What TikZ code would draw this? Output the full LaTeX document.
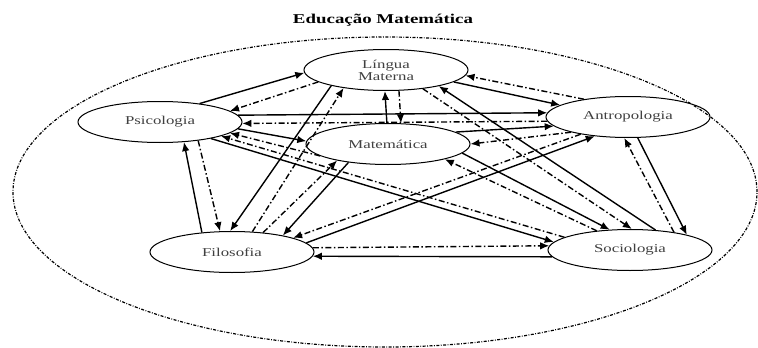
\documentclass[tikz,border=0pt]{standalone}
\usepackage{fontspec}
\setmainfont{Liberation Serif}[FakeStretch=1.4]
\usetikzlibrary{arrows.meta, shapes.geometric}
\tikzset{
    disciplina/.style={draw, ellipse, minimum width=164pt, minimum height=41pt, inner sep=0pt, line width=1pt, text=black!75, font=\fontsize{12}{12}\selectfont, align=center},
    directa/.style={-{Latex[length=9pt,width=7.5pt]}, line width=1.4pt},
    inversa/.style={-{Latex[length=9pt,width=7.5pt]}, line width=1.4pt, dash pattern=on 6pt off 2.5pt on 1.5pt off 2.5pt},
    contorno/.style={line width=1.2pt, dash pattern=on 3pt off 1.5pt on 0.8pt off 1.5pt},
}

\begin{document}
\begin{tikzpicture}[x=1pt, y=-1pt]
\useasboundingbox (0,0) rectangle (758,348);
% titulo y contorno
\node[font=\fontsize{13.5}{14}\selectfont\bfseries] (titulo) at (383,20) {Educação Matemática};
\draw[contorno] (385,192) ellipse [x radius=372pt, y radius=155pt];
% disciplinas
\node[disciplina] (lin) at (386,70) {Língua\\Materna};
\node[disciplina] (psi) at (160,122) {Psicologia};
\node[disciplina] (ant) at (628,117) {Antropologia};
\node[disciplina] (mat) at (388,144) {Matemática};
\node[disciplina] (fil) at (232,252) {Filosofia};
\node[disciplina] (soc) at (630,250) {Sociologia};
% Psicologia
\draw[directa] (psi.25) -- (lin.182);
\draw[inversa] (lin.190) -- (psi.9);
\draw[directa] (psi.5) -- (ant.177);
\draw[inversa] (ant.183) -- (psi.-1);
\draw[directa] (psi.-5) -- (mat.178);
\draw[inversa] (mat.190) -- (psi.-9);
\draw[directa] (fil.147) -- (psi.-40);
\draw[inversa] (psi.-26) -- (fil.120);
\draw[directa] (psi.-18) -- (soc.174);
\draw[inversa] (soc.169) -- (psi.-13);
% Lingua Materna
\draw[directa] (lin.-10) -- (ant.170);
\draw[inversa] (ant.158) -- (lin.-4);
\draw[directa] (mat.93) -- (lin.267);
\draw[inversa] (lin.-58) -- (mat.58);
\draw[directa] (lin.196) -- (fil.95);
\draw[inversa] (fil.45) -- (lin.203);
\draw[directa] (soc.38) -- (lin.-17);
\draw[inversa] (lin.-27) -- (soc.85);
% Matematica
\draw[directa] (mat.10) -- (ant.187);
\draw[inversa] (ant.195) -- (mat.0);
\draw[directa] (mat.205) -- (fil.18);
\draw[inversa] (fil.32) -- (mat.198);
\draw[directa] (mat.-7) -- (soc.135);
\draw[inversa] (soc.150) -- (mat.-15);
% Antropologia, Filosofia, Sociologia
\draw[directa] (fil.7) -- (ant.210);
\draw[inversa] (ant.200) -- (fil.13);
\draw[directa] (ant.-65) -- (soc.15);
\draw[inversa] (soc.22) -- (ant.-100);
\draw[inversa] (fil.3) -- (soc.177);
\draw[directa] (soc.185) -- (fil.-3);
\end{tikzpicture}
\end{document}
